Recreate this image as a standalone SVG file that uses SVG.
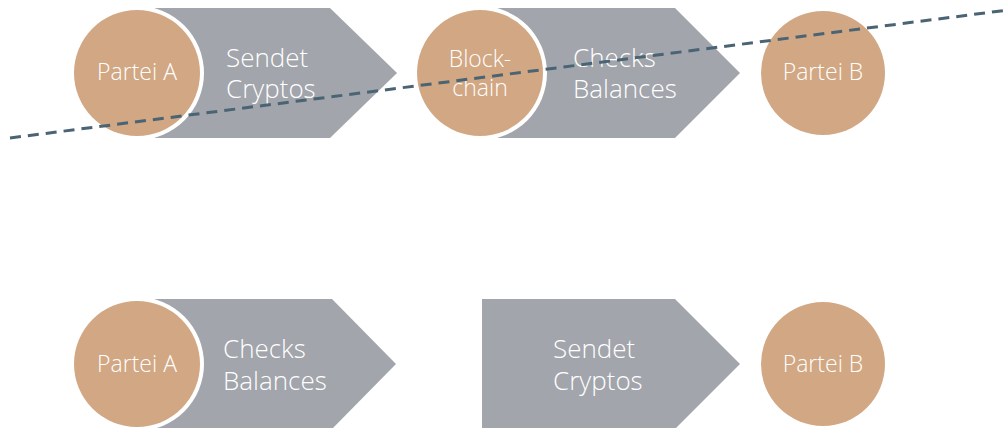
<svg xmlns="http://www.w3.org/2000/svg" width="1008" height="428" viewBox="0 0 1008 428">
<style>
.arrow{fill:#a2a5ab}
.ring{fill:#ffffff}
.circ{fill:#d2a783}
.t{font-family:"Open Sans Light","Open Sans","Liberation Sans",sans-serif;font-weight:300;fill:#ffffff}
.big{font-size:26px}
.sm{font-size:23px}
.dash{stroke:#4a6474;stroke-width:3;stroke-dasharray:11 7;fill:none}
</style>
<rect width="1008" height="428" fill="#ffffff"/>
<g id="step-top-1">
<polygon class="arrow" points="155,8 330,8 397,73 330,138 155,138"/>
<text class="t big" x="226" y="67">Sendet</text>
<text class="t big" x="226" y="98">Cryptos</text>
</g>
<g id="node-partei-a-top">
<circle class="ring" cx="137" cy="73" r="67"/>
<circle class="circ" cx="137" cy="73" r="63"/>
<text class="t sm" x="137" y="80" text-anchor="middle">Partei A</text>
</g>
<g id="step-top-2">
<polygon class="arrow" points="498,8 675,8 740,73 675,138 498,138"/>
<text class="t big" x="573" y="67">Checks</text>
<text class="t big" x="573" y="98">Balances</text>
</g>
<g id="node-blockchain">
<circle class="ring" cx="480" cy="73" r="67"/>
<circle class="circ" cx="480" cy="73" r="63"/>
<text class="t sm" x="480" y="67" text-anchor="middle">Block-</text>
<text class="t sm" x="480" y="96" text-anchor="middle">chain</text>
</g>
<g id="node-partei-b-top">
<circle class="circ" cx="823" cy="73" r="62"/>
<text class="t sm" x="823" y="80" text-anchor="middle">Partei B</text>
</g>
<g id="step-bottom-1">
<polygon class="arrow" points="155,299 332,299 396,364 332,429 155,429"/>
<text class="t big" x="223" y="358">Checks</text>
<text class="t big" x="223" y="390">Balances</text>
</g>
<g id="node-partei-a-bottom">
<circle class="ring" cx="137" cy="364" r="67"/>
<circle class="circ" cx="137" cy="364" r="63"/>
<text class="t sm" x="137" y="372" text-anchor="middle">Partei A</text>
</g>
<g id="step-bottom-2">
<polygon class="arrow" points="482,299 675,299 740,364 675,429 482,429"/>
<text class="t big" x="553" y="358">Sendet</text>
<text class="t big" x="553" y="390">Cryptos</text>
</g>
<g id="node-partei-b-bottom">
<circle class="circ" cx="823" cy="364" r="62"/>
<text class="t sm" x="823" y="372" text-anchor="middle">Partei B</text>
</g>
<g id="connectors">
<line class="dash" x1="10" y1="138" x2="1008" y2="10"/>
</g>
</svg>
